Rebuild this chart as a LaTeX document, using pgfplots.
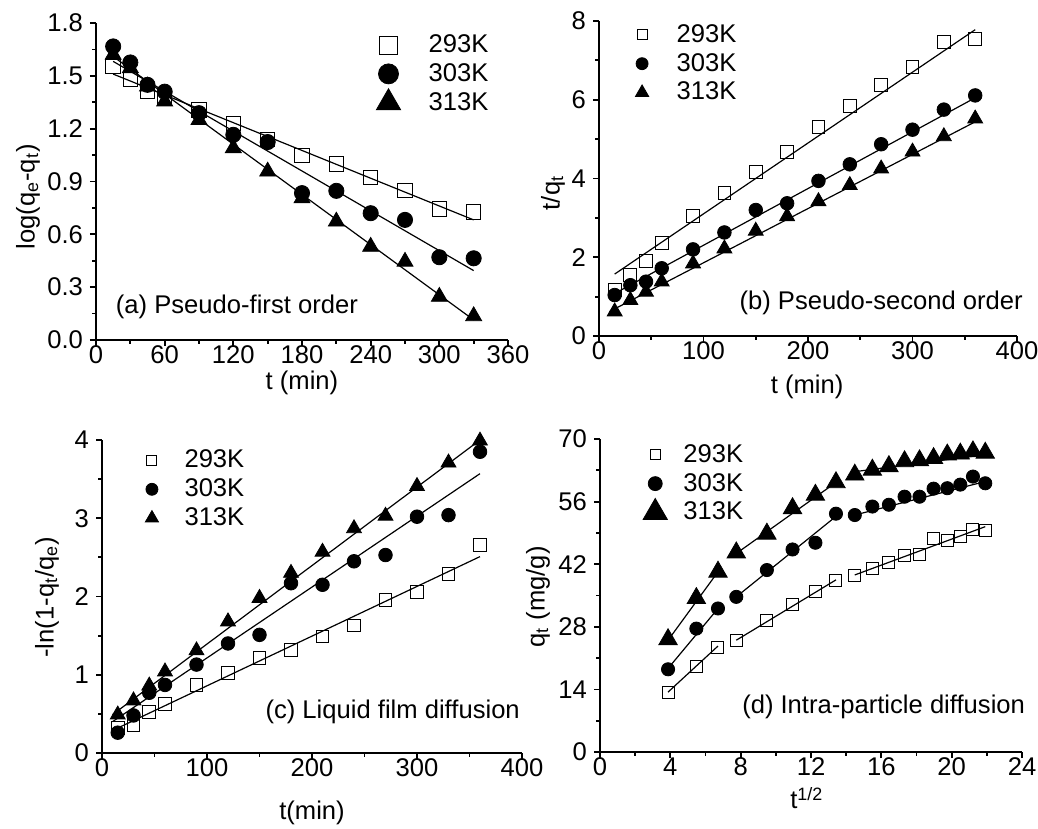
\documentclass[border=0pt]{standalone}
\usepackage{fontspec}
\setmainfont{Liberation Sans}
\usepackage{pgfplots}
\pgfplotsset{compat=1.18}

% 1 px of the reference = 0.5pt
\pgfplotsset{
  kin/.style={
    scale only axis,
    axis x line*=bottom, axis y line*=left,
    axis line style={line width=1.2pt},
    tick style={line width=0.9pt, black},
    tick align=outside,
    major tick length=3pt, minor tick length=1.8pt,
    minor x tick num=1, minor y tick num=1,
    /pgf/number format/assume math mode=true,
    tick label style={font=\fontsize{12.8}{15}\selectfont},
    xticklabel style={yshift=3.5pt},
    label style={font=\fontsize{12.8}{15}\selectfont},
    legend style={draw=none, fill=none, font=\fontsize{12.8}{15}\selectfont,
      legend cell align=left, row sep=0pt, anchor=north west},
    clip=false,
  },
  pt/.style={only marks, mark=square, mark size=3.2pt, mark options={solid, draw=black, fill=white, line width=0.5pt}},
  pc/.style={only marks, mark=*, mark size=3.4pt, mark options={solid, draw=black, fill=black}},
  ptr/.style={only marks, mark=triangle*, mark size=4.3pt, mark options={solid, draw=black, fill=black}},
  fit/.style={black, line width=0.6pt, no marks, forget plot},
}

\begin{document}
\begin{tikzpicture}[font=\fontsize{12.8}{15}\selectfont]
\path[use as bounding box] (0,0) rectangle (519pt,-414.5pt);

% (a) pseudo-first order
\begin{axis}[kin, at={(48pt,-170pt)}, anchor=south west,
  width=206pt, height=158.5pt,
  xmin=0, xmax=360, ymin=0, ymax=1.8,
  xtick={0,60,...,360}, ytick={0,0.3,...,1.8},
  yticklabel style={/pgf/number format/.cd, fixed, fixed zerofill, precision=1},
  xlabel={t (min)}, ylabel={log(q\textsubscript{e}-q\textsubscript{t})},
  xlabel style={at={(axis description cs:0.5,-0.136)}, anchor=center},
  ylabel style={at={(axis description cs:-0.165,0.451)}, anchor=center},
  legend style={at={(rel axis cs:0.665,0.99)},
    /tikz/every odd column/.append style={column sep=12pt}},
]
\addplot+[pt, mark size=3.6pt, legend image post style={mark size=4.5pt}] coordinates {(15,1.554)(30,1.478)(45,1.41)(60,1.37)(90,1.307)(120,1.228)(150,1.14)(180,1.048)(210,1.0)(240,0.923)(270,0.849)(300,0.743)(330,0.726)};
\addlegendentry{293K}
\addplot+[pc, mark size=3.8pt, legend image post style={mark size=5pt}] coordinates {(15,1.667)(30,1.576)(45,1.449)(60,1.41)(90,1.288)(120,1.165)(150,1.124)(180,0.834)(210,0.847)(240,0.72)(270,0.682)(300,0.47)(330,0.464)};
\addlegendentry{303K}
\addplot+[ptr, mark size=4.6pt, legend image post style={mark size=7pt}] coordinates {(15,1.62)(30,1.544)(45,1.44)(60,1.355)(90,1.25)(120,1.09)(150,0.957)(180,0.805)(210,0.673)(240,0.53)(270,0.445)(300,0.246)(330,0.136)};
\addlegendentry{313K}
\addplot[fit] coordinates {(15,1.51)(330,0.682)};
\addplot[fit] coordinates {(15,1.582)(330,0.394)};
\addplot[fit] coordinates {(15,1.61)(330,0.114)};
\node[anchor=center] at (rel axis cs:0.342,0.104) {(a) Pseudo-first order};
\end{axis}

% (b) pseudo-second order
\begin{axis}[kin, at={(299.5pt,-168pt)}, anchor=south west,
  width=209pt, height=157.5pt,
  xmin=0, xmax=400, ymin=0, ymax=8,
  xtick={0,100,...,400}, ytick={0,2,...,8},
  xlabel={t (min)}, ylabel={t/q\textsubscript{t}},
  xlabel style={at={(axis description cs:0.498,-0.162)}, anchor=center},
  ylabel style={at={(axis description cs:-0.11,0.454)}, anchor=center},
  legend style={at={(rel axis cs:0.072,1.016)},
    /tikz/every odd column/.append style={column sep=12pt}},
]
\addplot+[pt, legend image post style={mark size=2.5pt}] coordinates {(15,1.167)(30,1.548)(45,1.91)(60,2.37)(90,3.04)(120,3.64)(150,4.17)(180,4.68)(210,5.31)(240,5.84)(270,6.37)(300,6.83)(330,7.47)(360,7.55)};
\addlegendentry{293K}
\addplot+[pc, legend image post style={mark size=3pt}] coordinates {(15,1.04)(30,1.29)(45,1.38)(60,1.72)(90,2.2)(120,2.63)(150,3.2)(180,3.37)(210,3.94)(240,4.36)(270,4.87)(300,5.24)(330,5.75)(360,6.11)};
\addlegendentry{303K}
\addplot+[ptr, legend image post style={mark size=3.8pt}] coordinates {(15,0.62)(30,0.91)(45,1.12)(60,1.38)(90,1.84)(120,2.22)(150,2.67)(180,3.04)(210,3.42)(240,3.83)(270,4.25)(300,4.68)(330,5.07)(360,5.52)};
\addlegendentry{313K}
\addplot[fit] coordinates {(15,1.573)(360,7.78)};
\addplot[fit] coordinates {(15,1.08)(360,6.05)};
\addplot[fit] coordinates {(10,0.62)(360,5.44)};
\node[anchor=center] at (rel axis cs:0.675,0.105) {(b) Pseudo-second order};
\end{axis}

% (c) liquid film diffusion
\begin{axis}[kin, at={(51pt,-376.5pt)}, anchor=south west,
  width=210pt, height=156.5pt,
  xmin=0, xmax=400, ymin=0, ymax=4,
  xtick={0,100,...,400}, ytick={0,1,...,4},
  xlabel={t(min)}, ylabel={-ln(1-q\textsubscript{t}/q\textsubscript{e})},
  xlabel style={at={(axis description cs:0.5,-0.192)}, anchor=center},
  ylabel style={at={(axis description cs:-0.131,0.498)}, anchor=center},
  legend style={at={(rel axis cs:0.088,0.995)},
    /tikz/every odd column/.append style={column sep=11pt}},
]
\addplot+[pt, legend image post style={mark size=2.5pt}] coordinates {(15,0.32)(30,0.36)(45,0.52)(60,0.63)(90,0.87)(120,1.02)(150,1.21)(180,1.32)(210,1.49)(240,1.63)(270,1.96)(300,2.06)(330,2.29)(360,2.66)};
\addlegendentry{293K}
\addplot+[pc, legend image post style={mark size=3pt}] coordinates {(15,0.26)(30,0.48)(45,0.77)(60,0.87)(90,1.13)(120,1.40)(150,1.51)(180,2.17)(210,2.15)(240,2.45)(270,2.53)(300,3.02)(330,3.04)(360,3.85)};
\addlegendentry{303K}
\addplot+[ptr, legend image post style={mark size=3.8pt}] coordinates {(15,0.49)(30,0.67)(45,0.86)(60,1.04)(90,1.31)(120,1.68)(150,1.98)(180,2.30)(210,2.57)(240,2.87)(270,3.03)(300,3.41)(330,3.71)(360,3.99)};
\addlegendentry{313K}
\addplot[fit] coordinates {(12,0.30)(360,2.51)};
\addplot[fit] coordinates {(10,0.40)(360,3.57)};
\addplot[fit] coordinates {(10,0.49)(360,4.0)};
\node[anchor=center] at (rel axis cs:0.692,0.131) {(c) Liquid film diffusion};
\end{axis}

% (d) intra-particle diffusion
\begin{axis}[kin, at={(300pt,-376pt)}, anchor=south west,
  width=211pt, height=156.5pt,
  xmin=0, xmax=24, ymin=0, ymax=70,
  xtick={0,4,...,24}, ytick={0,14,...,70},
  xlabel={t\textsuperscript{1/2}}, ylabel={q\textsubscript{t} (mg/g)},
  xlabel style={at={(axis description cs:0.49,-0.147)}, anchor=center},
  ylabel style={at={(axis description cs:-0.147,0.495)}, anchor=center},
  legend style={at={(rel axis cs:0.087,1.01)},
    /tikz/every odd column/.append style={column sep=6pt}},
]
\addplot+[pt, mark size=3pt, legend image post style={mark size=2.5pt}] coordinates {(3.87,13.2)(5.48,19.2)(6.71,23.4)(7.75,25.0)(9.49,29.4)(10.95,32.9)(12.25,35.9)(13.42,38.3)(14.49,39.4)(15.49,41.1)(16.43,42.4)(17.32,43.9)(18.17,44.1)(18.97,47.7)(19.75,47.3)(20.49,48.3)(21.21,49.8)(21.91,49.5)};
\addlegendentry{293K}
\addplot+[pc, mark size=3.3pt, legend image post style={mark size=3.5pt}] coordinates {(3.87,18.5)(5.48,27.6)(6.71,32.1)(7.75,34.7)(9.49,40.7)(10.95,45.3)(12.25,46.8)(13.42,53.3)(14.49,53.0)(15.49,54.9)(16.43,55.3)(17.32,57.1)(18.17,57.1)(18.97,58.9)(19.75,59.0)(20.49,59.8)(21.21,61.6)(21.91,60.1)};
\addlegendentry{303K}
\addplot+[ptr, mark size=5.3pt, legend image post style={mark size=7pt}] coordinates {(3.87,25.2)(5.48,34.4)(6.71,40.3)(7.75,44.6)(9.49,48.8)(10.95,54.5)(12.25,57.5)(13.42,60.3)(14.49,62.0)(15.49,63.1)(16.43,63.9)(17.32,65.0)(18.17,65.2)(18.97,65.7)(19.75,66.5)(20.49,66.7)(21.21,67.2)(21.91,66.9)};
\addlegendentry{313K}
\addplot[fit] coordinates {(3.87,13.4)(6.71,23.7)};
\addplot[fit] coordinates {(7.75,25.0)(13.42,38.5)};
\addplot[fit] coordinates {(14.49,39.6)(21.91,50.4)};
\addplot[fit] coordinates {(3.87,18.7)(6.71,32.1)};
\addplot[fit] coordinates {(7.75,34.7)(13.42,52.7)};
\addplot[fit] coordinates {(14.49,53.0)(21.91,60.5)};
\addplot[fit] coordinates {(3.87,25.0)(6.71,40.3)};
\addplot[fit] coordinates {(7.75,44.4)(13.42,60.3)};
\addplot[fit] coordinates {(14.49,62.7)(21.91,66.5)};
\node[anchor=center] at (rel axis cs:0.672,0.144) {(d) Intra-particle diffusion};
\end{axis}
\end{tikzpicture}
\end{document}
